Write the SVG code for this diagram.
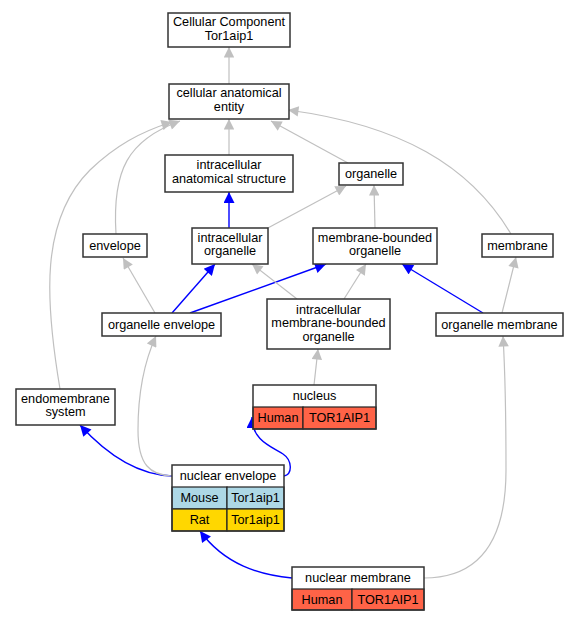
<svg xmlns="http://www.w3.org/2000/svg" width="577" height="621" viewBox="0 0 577 621">
<style>
text{font-family:"Liberation Sans",Arial,sans-serif;font-size:12.7px;fill:#000;text-anchor:middle}
.n{fill:#fff;stroke:#333;stroke-width:1.5}
.c{stroke:#222;stroke-width:1.2}
.g{fill:none;stroke:#c0c0c0;stroke-width:1.2}
.b{fill:none;stroke:#0000ff;stroke-width:1.4}
.g{marker-end:url(#ag)}
.b{marker-end:url(#ab)}
</style>
<defs>
<marker id="ag" viewBox="0 0 10 10" refX="10" refY="5" orient="auto" markerUnits="userSpaceOnUse" markerWidth="12" markerHeight="10.5"><path d="M0,0L10,5L0,10z" fill="#c0c0c0"/></marker>
<marker id="ab" viewBox="0 0 10 10" refX="10" refY="5" orient="auto" markerUnits="userSpaceOnUse" markerWidth="12.5" markerHeight="11"><path d="M0,0L10,5L0,10z" fill="#0000ff"/></marker>
</defs>
<g id="edges">
<path class="g" d="M229,84L229,47"/>
<path class="g" d="M229,155L229,119"/>
<path class="g" d="M348,163L271,121"/>
<path class="g" d="M511,234C470,165 400,125 288,110"/>
<path class="g" d="M116,234C112,170 128,140 180,121"/>
<path class="g" d="M60,389C45,300 40,220 90,170C115,146 140,132 172,122"/>
<path class="b" d="M229,228L229,192"/>
<path class="g" d="M266,229L346,186"/>
<path class="g" d="M375,228L374,185"/>
<path class="g" d="M155,313L123,258"/>
<path class="b" d="M172,313L215,264"/>
<path class="b" d="M190,313L326,264"/>
<path class="g" d="M297,299L252,264"/>
<path class="g" d="M344,299L366,264"/>
<path class="b" d="M483,313L402,264"/>
<path class="g" d="M502,313L516,257"/>
<path class="g" d="M314,385L318,349"/>
<path class="b" d="M172,476C140,475 110,458 80,425"/>
<path class="g" d="M172,476C150,475 138,465 138,430C138,390 145,360 156,336"/>
<path class="b" d="M284,476C293,474 292,460 283,454C270,446 252,440 252,417"/>
<path class="b" d="M292,578C260,575 225,565 200,531"/>
<path class="g" d="M424,578C480,578 506,540 506,470C506,410 505,370 503,336"/>
</g>
<g id="cc"><rect class="n" x="168" y="13" width="122" height="34"/><text x="229" y="26">Cellular Component</text><text x="229" y="40">Tor1aip1</text></g>
<g id="cae"><rect class="n" x="169" y="84" width="120" height="35"/><text x="229" y="97">cellular anatomical</text><text x="229" y="111">entity</text></g>
<g id="ias"><rect class="n" x="165" y="155" width="128" height="37"/><text x="229" y="169">intracellular</text><text x="229" y="183">anatomical structure</text></g>
<g id="organelle"><rect class="n" x="339" y="163" width="64" height="22"/><text x="371" y="178">organelle</text></g>
<g id="envelope"><rect class="n" x="83" y="234" width="64" height="23"/><text x="115" y="250">envelope</text></g>
<g id="io"><rect class="n" x="192" y="228" width="76" height="36"/><text x="230" y="242">intracellular</text><text x="230" y="255">organelle</text></g>
<g id="mbo"><rect class="n" x="313" y="228" width="124" height="36"/><text x="375" y="242">membrane-bounded</text><text x="375" y="255">organelle</text></g>
<g id="membrane"><rect class="n" x="482" y="234" width="71" height="23"/><text x="517.5" y="250">membrane</text></g>
<g id="oe"><rect class="n" x="102" y="313" width="119" height="23"/><text x="161.5" y="329">organelle envelope</text></g>
<g id="imbo"><rect class="n" x="267" y="299" width="123" height="50"/><text x="328.5" y="314">intracellular</text><text x="328.5" y="327">membrane-bounded</text><text x="328.5" y="341">organelle</text></g>
<g id="om"><rect class="n" x="436" y="313" width="127" height="23"/><text x="499.5" y="329">organelle membrane</text></g>
<g id="ems"><rect class="n" x="16" y="389" width="99" height="36"/><text x="65.5" y="403">endomembrane</text><text x="65.5" y="416">system</text></g>
<g id="nucleus">
<rect x="253" y="385" width="123" height="22" fill="#fff"/>
<rect x="253" y="407" width="50" height="22" fill="#ff6347" class="c"/>
<rect x="303" y="407" width="73" height="22" fill="#ff6347" class="c"/>
<rect x="253" y="385" width="123" height="44" fill="none" stroke="#333" stroke-width="1.5"/>
<text x="314.5" y="400">nucleus</text><text x="278" y="422">Human</text><text x="339.5" y="422">TOR1AIP1</text></g>
<g id="ne">
<rect x="172" y="465" width="112" height="22" fill="#fff"/>
<rect x="172" y="487" width="55" height="22" fill="#add8e6" class="c"/>
<rect x="227" y="487" width="57" height="22" fill="#add8e6" class="c"/>
<rect x="172" y="509" width="55" height="22" fill="#ffd700" class="c"/>
<rect x="227" y="509" width="57" height="22" fill="#ffd700" class="c"/>
<rect x="172" y="465" width="112" height="66" fill="none" stroke="#333" stroke-width="1.5"/>
<text x="228" y="480">nuclear envelope</text><text x="199.5" y="502">Mouse</text><text x="255.5" y="502">Tor1aip1</text><text x="199.5" y="524">Rat</text><text x="255.5" y="524">Tor1aip1</text></g>
<g id="nm">
<rect x="292" y="567" width="132" height="22" fill="#fff"/>
<rect x="292" y="589" width="60" height="21" fill="#ff6347" class="c"/>
<rect x="352" y="589" width="72" height="21" fill="#ff6347" class="c"/>
<rect x="292" y="567" width="132" height="43" fill="none" stroke="#333" stroke-width="1.5"/>
<text x="358" y="582">nuclear membrane</text><text x="322" y="604">Human</text><text x="388" y="604">TOR1AIP1</text></g>
</svg>
